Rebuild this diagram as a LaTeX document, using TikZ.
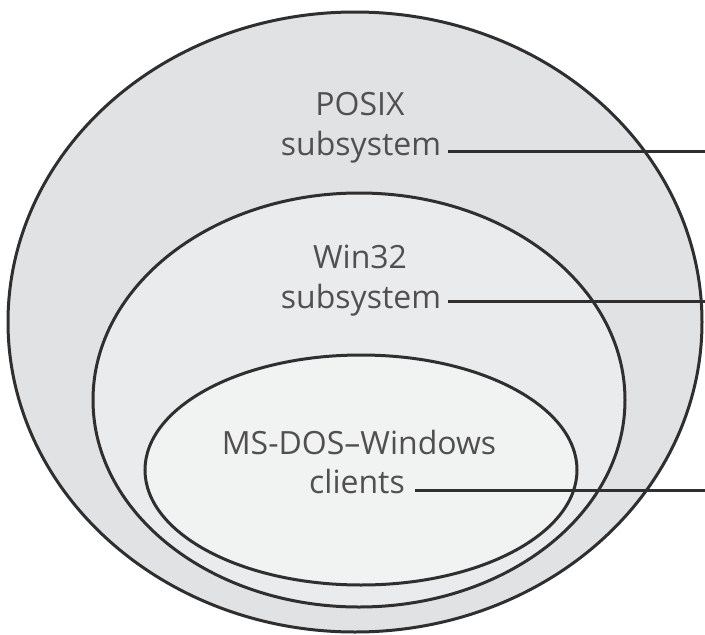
\documentclass[tikz,border=0pt]{standalone}
\usepackage{fontspec}
\setmainfont{Open Sans}
\usetikzlibrary{shapes.geometric}
\definecolor{ringline}{HTML}{2F2F2F}
\definecolor{outerfill}{HTML}{E1E2E4}
\definecolor{midfill}{HTML}{EAEBEC}
\definecolor{innerfill}{HTML}{F1F2F2}
\definecolor{labelgray}{HTML}{505050}

\begin{document}
\begin{tikzpicture}[
			x=1pt,y=-1pt,
			ring/.style={ellipse,draw=ringline,line width=3pt,inner sep=0pt},
			lbl/.style={font=\fontsize{32}{32}\selectfont,text=labelgray,inner sep=0pt,anchor=base},
			lead/.style={draw=ringline,line width=3pt}
			]
			\useasboundingbox (0,0) rectangle (705,635);
			% nested subsystems
			\node[ring,fill=outerfill,minimum width=694pt,minimum height=620pt] (posix) at (355,322) {};
			\node[ring,fill=midfill,minimum width=532pt,minimum height=414pt] (win32) at (359,400) {};
			\node[ring,fill=innerfill,minimum width=432pt,minimum height=230pt] (dos) at (361,470) {};
			% labels
			\node[lbl] (posixa) at (360,115) {POSIX};
			\node[lbl] (posixb) at (361,155) {subsystem};
			\node[lbl] (wina) at (360,268) {Win32};
			\node[lbl] (winb) at (361,308) {subsystem};
			\node[lbl] (dosa) at (359,454) {MS-DOS–Windows};
			\node[lbl] (dosb) at (357,493) {clients};
			% leaders to the right edge
			\coordinate (posixend) at (705,151);
			\coordinate (winend) at (705,301);
			\coordinate (dosend) at (705,490);
			\draw[lead] ([xshift=7pt]posixb.east |- posixend) -- (posixend);
			\draw[lead] ([xshift=7pt]winb.east |- winend) -- (winend);
			\draw[lead] ([xshift=10pt]dosb.east |- dosend) -- (dosend);
		\end{tikzpicture}
\end{document}
